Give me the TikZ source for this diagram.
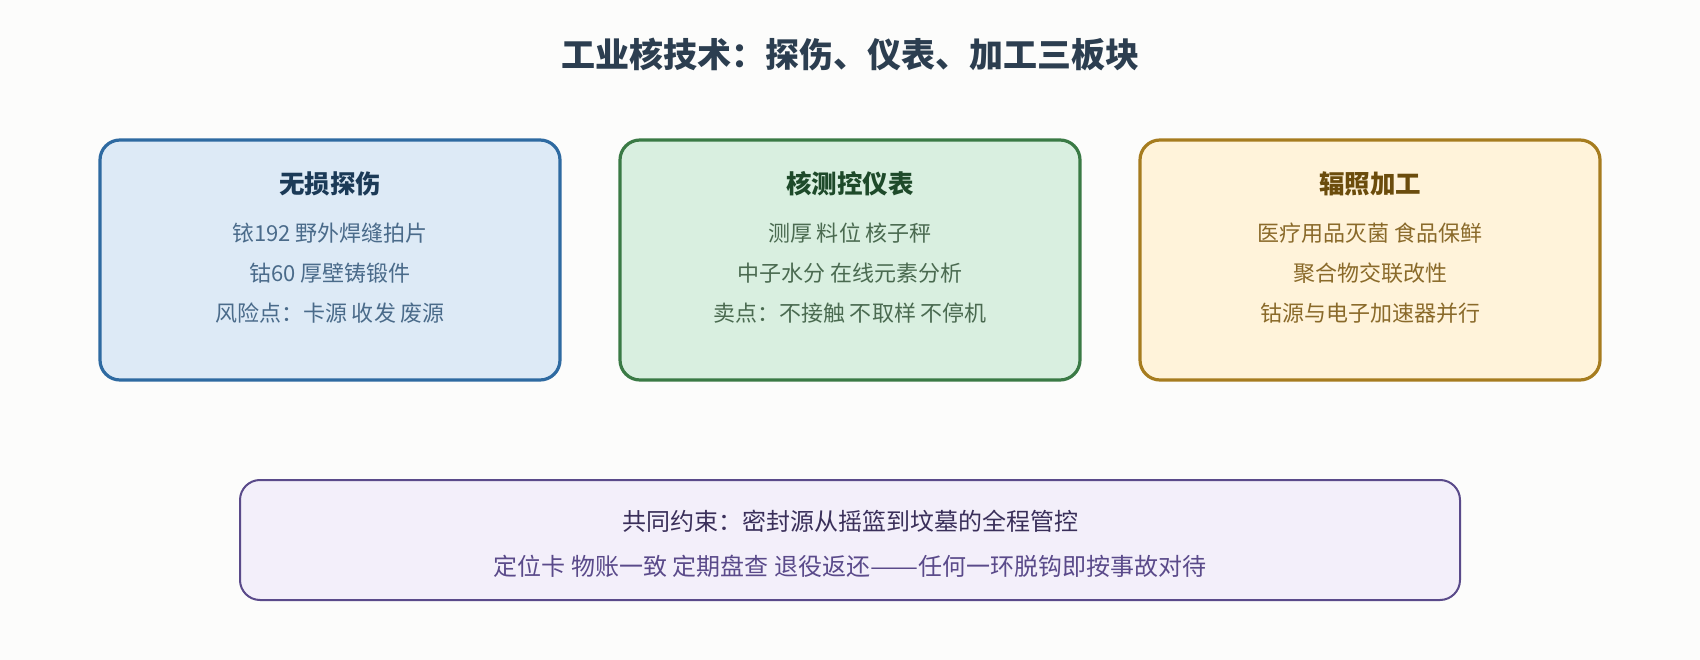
\documentclass[tikz,border=0pt]{standalone}
\usepackage{fontspec}
\usepackage{graphicx}
\setmainfont{Noto Sans CJK SC}
\newfontfamily\cjk{Noto Sans CJK SC}
\usetikzlibrary{positioning}
\definecolor{bg}{HTML}{FCFCFB}
\definecolor{titlec}{HTML}{2C3E50}
\definecolor{bfillA}{HTML}{DDEAF6}
\definecolor{bdrawA}{HTML}{2E6AA1}
\definecolor{htextA}{HTML}{1B3A57}
\definecolor{btextA}{HTML}{4A6B8A}
\definecolor{bfillB}{HTML}{D9EFE0}
\definecolor{bdrawB}{HTML}{3A7A45}
\definecolor{htextB}{HTML}{1E4A2A}
\definecolor{btextB}{HTML}{4A6A50}
\definecolor{bfillC}{HTML}{FFF3DA}
\definecolor{bdrawC}{HTML}{A67C1F}
\definecolor{htextC}{HTML}{6B4C0C}
\definecolor{btextC}{HTML}{8A6A2A}
\definecolor{bfillD}{HTML}{F3EFFA}
\definecolor{bdrawD}{HTML}{5A4A8A}
\definecolor{htextD}{HTML}{3A2F5A}
\definecolor{btextD}{HTML}{5A4A8A}
\tikzset{
  panel/.style={draw, line width=3.2pt, rounded corners=20pt, minimum width=460pt, minimum height=240pt, inner sep=0pt},
  footbox/.style={draw, line width=2pt, rounded corners=20pt, minimum width=1220pt, minimum height=120pt, inner sep=0pt},
  headtxt/.style={font=\cjk\bfseries\fontsize{25.5}{30}\selectfont, inner sep=0pt},
  bodytxt/.style={font=\cjk\fontsize{22}{26}\selectfont, inner sep=0pt},
  foottxt/.style={font=\cjk\fontsize{24}{28}\selectfont, inner sep=0pt},
}
\begin{document}
\begin{tikzpicture}[x=1pt,y=-1pt]
\fill[bg] (0,0) rectangle (1700,660);
\useasboundingbox (0,0) rectangle (1700,660);
\node[font=\cjk\bfseries\fontsize{34}{40}\selectfont, text=titlec, inner sep=0pt] (title) at (850,54) {工业核技术：探伤、仪表、加工三板块};

\node[panel, draw=bdrawA, fill=bfillA] (pA) at (330,260) {};
\node[headtxt, text=htextA] (hA) at (330,184) {无损探伤};
\node[bodytxt, text=btextA] (a1) at (330,233) {铱192 野外焊缝拍片};
\node[bodytxt, text=btextA] (a2) at (330,273) {钴60 厚壁铸锻件};
\node[bodytxt, text=btextA] (a3) at (330,313) {风险点：卡源 收发 废源};

\node[panel, draw=bdrawB, fill=bfillB] (pB) at (850,260) {};
\node[headtxt, text=htextB] (hB) at (850,184) {核测控仪表};
\node[bodytxt, text=btextB] (b1) at (850,233) {测厚 料位 核子秤};
\node[bodytxt, text=btextB] (b2) at (850,273) {中子水分 在线元素分析};
\node[bodytxt, text=btextB] (b3) at (850,313) {卖点：不接触 不取样 不停机};

\node[panel, draw=bdrawC, fill=bfillC] (pC) at (1370,260) {};
\node[headtxt, text=htextC] (hC) at (1370,184) {辐照加工};
\node[bodytxt, text=btextC] (c1) at (1370,233) {医疗用品灭菌 食品保鲜};
\node[bodytxt, text=btextC] (c2) at (1370,273) {聚合物交联改性};
\node[bodytxt, text=btextC] (c3) at (1370,313) {钴源与电子加速器并行};

\node[footbox, draw=bdrawD, fill=bfillD] (pD) at (850,540) {};
\node[foottxt, text=htextD] (d1) at (850,521) {共同约束：密封源从摇篮到坟墓的全程管控};
\node[foottxt, text=btextD] (d2) at (850,566) {定位卡 物账一致 定期盘查 退役返还\resizebox{2em}{\height}{——}任何一环脱钩即按事故对待};
\end{tikzpicture}
\end{document}
